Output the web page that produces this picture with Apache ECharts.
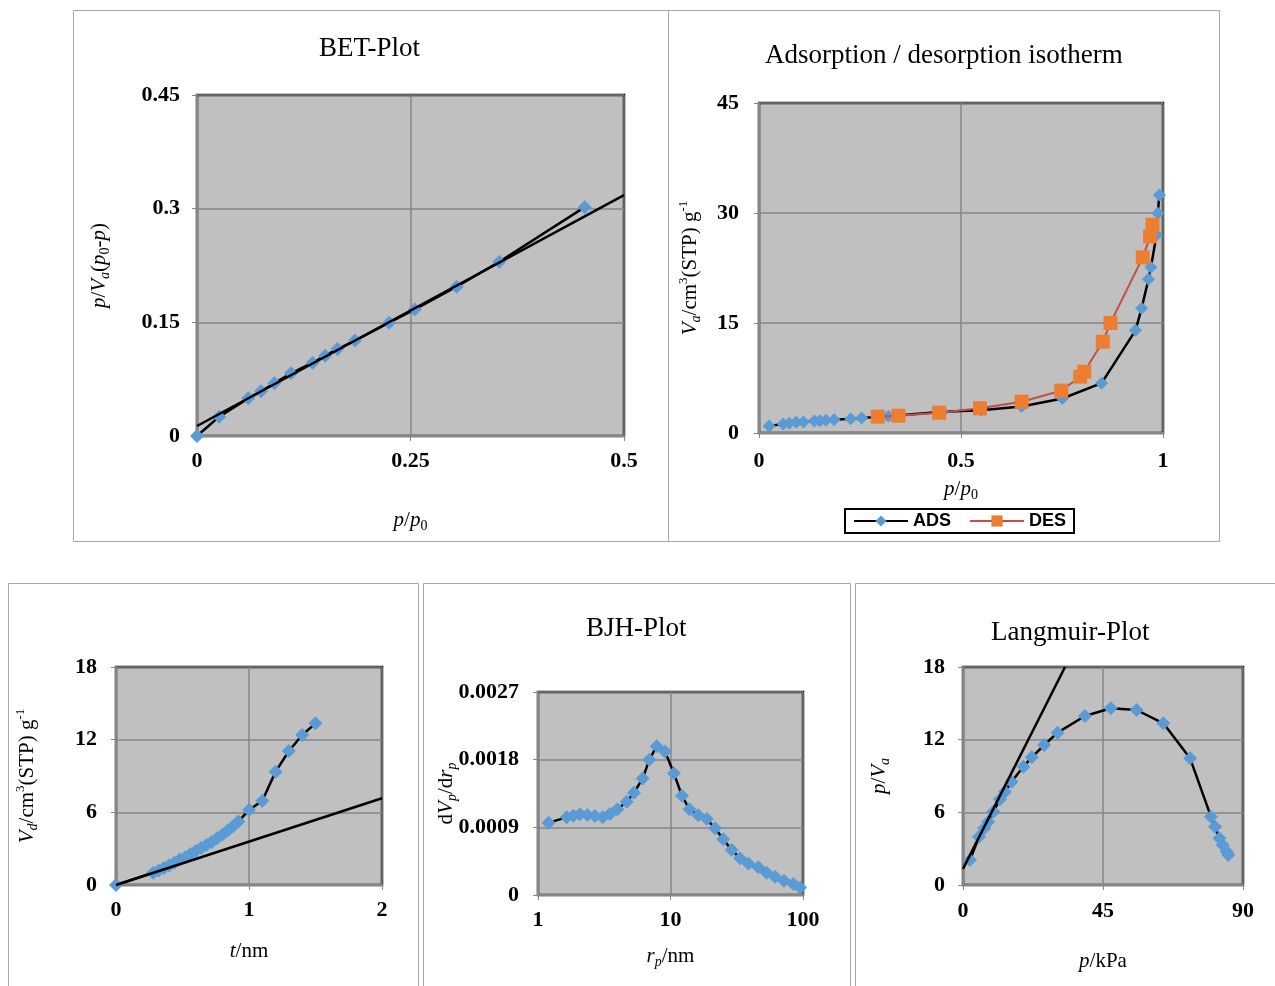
<!DOCTYPE html>
<html>
<head>
<meta charset="utf-8">
<title>Surface area plots</title>
<script src="https://cdn.jsdelivr.net/npm/echarts@6/dist/echarts.min.js"></script>
<style>
  html, body { margin: 0; padding: 0; background: #fff; }
  #chart { width: 1275px; height: 986px; }
</style>
</head>
<body>
<div id="chart"></div>
<script>
// BET plot
const betX = [0, 0.026, 0.060, 0.075, 0.0905, 0.110, 0.1355, 0.150, 0.1645, 0.185, 0.225, 0.255, 0.304, 0.354, 0.454];
const betY = [0, 0.0255, 0.0497, 0.059, 0.0695, 0.0827, 0.0967, 0.106, 0.1148, 0.126, 0.1495, 0.167, 0.197, 0.230, 0.302];
const betFitX = [0, 0.5];
const betFitY = [0.0132, 0.318];

// adsorption / desorption isotherm
const adsX = [0.025, 0.060, 0.075, 0.092, 0.110, 0.137, 0.151, 0.166, 0.186, 0.227, 0.254, 0.32, 0.455, 0.55, 0.65, 0.751, 0.848, 0.932, 0.947, 0.964, 0.970, 0.984, 0.987, 0.991];
const adsY = [0.95, 1.23, 1.32, 1.46, 1.5, 1.64, 1.68, 1.73, 1.82, 1.95, 2.05, 2.3, 2.9, 3.1, 3.6, 4.7, 6.8, 14.0, 17.0, 20.95, 22.6, 27.0, 29.95, 32.45];
const desX = [0.974, 0.968, 0.95, 0.870, 0.851, 0.805, 0.795, 0.748, 0.65, 0.547, 0.446, 0.345, 0.294];
const desY = [28.4, 26.8, 23.95, 15.0, 12.45, 8.36, 7.68, 5.77, 4.27, 3.37, 2.77, 2.36, 2.23];

// t-plot
const tX = [0, 0.28, 0.32, 0.36, 0.40, 0.44, 0.48, 0.52, 0.56, 0.60, 0.64, 0.68, 0.72, 0.76, 0.80, 0.84, 0.88, 0.92, 1.00, 1.10, 1.20, 1.30, 1.40, 1.50];
const tY = [0, 1.02, 1.2, 1.4, 1.6, 1.85, 2.1, 2.3, 2.55, 2.8, 3.05, 3.3, 3.55, 3.85, 4.15, 4.5, 4.85, 5.25, 6.19, 6.96, 9.36, 11.06, 12.39, 13.35];
const tFitX = [0, 2];
const tFitY = [0, 7.16];

// BJH plot
const bjhX = [1.2, 1.65, 1.85, 2.07, 2.36, 2.69, 3.08, 3.49, 3.97, 4.67, 5.3, 6.17, 6.92, 7.87, 9.09, 10.6, 12.2, 13.9, 16.2, 18.8, 21.7, 25.0, 29.0, 33.5, 38.7, 46.0, 53.2, 61.5, 71.9, 84.5, 94.9];
const bjhY = [0.000962, 0.001033, 0.001055, 0.001073, 0.001064, 0.00105, 0.001033, 0.001077, 0.00114, 0.00124, 0.00136, 0.00155, 0.0018, 0.00198, 0.00191, 0.00162, 0.00132, 0.00114, 0.00106, 0.00101, 0.000887, 0.00074, 0.000599, 0.000488, 0.00042, 0.000368, 0.000297, 0.000243, 0.00019, 0.000146, 0.0001];

// Langmuir plot
const lanX = [2.25, 5.14, 6.85, 8.14, 9.75, 11.9, 13.5, 15.6, 19.4, 22.1, 26.1, 30.4, 39.2, 47.5, 55.8, 64.4, 73.0, 79.7, 81.0, 82.4, 83.5, 84.8, 85.3];
const lanY = [2.06, 3.99, 4.68, 5.23, 6.05, 7.08, 7.7, 8.53, 9.77, 10.54, 11.56, 12.58, 13.95, 14.59, 14.45, 13.35, 10.46, 5.64, 4.81, 3.86, 3.3, 2.75, 2.48];
const lanFitX = [0, 32.8];
const lanFitY = [1.33, 18];

const SERIF = '"Liberation Serif", "Times New Roman", serif';
const BLUE = '#5B9BD5';

function pairs(xs, ys) {
  return xs.map(function (x, i) { return [x, ys[i]]; });
}

// rich text styles for axis names (italic, subscripts, superscripts)
const nameRich = {
  n: { fontFamily: SERIF, fontSize: 21, color: '#000', lineHeight: 26 },
  i: { fontFamily: SERIF, fontSize: 21, fontStyle: 'italic', color: '#000', lineHeight: 26 },
  si: { fontFamily: SERIF, fontSize: 14, fontStyle: 'italic', color: '#000', verticalAlign: 'bottom', lineHeight: 26 },
  s: { fontFamily: SERIF, fontSize: 14, color: '#000', verticalAlign: 'bottom', lineHeight: 26 },
  up: { fontFamily: SERIF, fontSize: 13, color: '#000', verticalAlign: 'top', lineHeight: 26 }
};

function valAxis(idx, min, max, interval, name, gap, margin, extra) {
  return Object.assign({
    type: 'value',
    gridIndex: idx,
    min: min,
    max: max,
    interval: interval,
    name: name,
    nameLocation: 'middle',
    nameGap: gap,
    nameMoveOverlap: false,
    nameTextStyle: { rich: nameRich },
    axisLine: { show: true, onZero: false, lineStyle: { color: '#868686', width: 2 } },
    axisTick: { show: true, length: 5, lineStyle: { color: '#868686' } },
    axisLabel: { fontFamily: SERIF, fontSize: 22, fontWeight: 'bold', color: '#000', margin: margin },
    splitLine: { show: true, lineStyle: { color: '#868686', width: 1.5 } }
  }, extra || {});
}

function gridBox(left, top, width, height) {
  return {
    left: left, top: top, width: width, height: height,
    show: true,
    backgroundColor: '#C0C0C0',
    borderColor: '#000',
    borderWidth: 2.5
  };
}

function pointSeries(name, idx, data, extra) {
  return Object.assign({
    name: name,
    type: 'line',
    xAxisIndex: idx,
    yAxisIndex: idx,
    data: data,
    symbol: 'diamond',
    symbolSize: 14,
    showSymbol: true,
    itemStyle: { color: BLUE },
    lineStyle: { color: '#000', width: 2.5 },
    animation: false,
    z: 3
  }, extra || {});
}

function fitSeries(idx, data) {
  return {
    type: 'line',
    xAxisIndex: idx,
    yAxisIndex: idx,
    data: data,
    symbol: 'none',
    lineStyle: { color: '#000', width: 2.5 },
    animation: false,
    z: 4
  };
}

function panel(x1, y1, x2, y2) {
  return {
    type: 'rect',
    shape: { x: x1, y: y1, width: x2 - x1, height: y2 - y1 },
    style: { fill: 'none', stroke: '#A6A6A6', lineWidth: 1 },
    z: -1
  };
}

const titleStyle = { fontFamily: SERIF, fontSize: 27, fontWeight: 'normal', color: '#000' };

let option = {
  backgroundColor: '#fff',
  animation: false,
  graphic: [
    panel(73.5, 10.5, 668.5, 541.5),
    panel(668.5, 10.5, 1219.5, 541.5),
    panel(8.5, 583.5, 418.5, 990),
    panel(423.5, 583.5, 850.5, 990),
    panel(855.5, 583.5, 1280, 990)
  ],
  title: [
    { text: 'BET-Plot', left: 319, top: 35, padding: 0, textStyle: titleStyle },
    { text: 'Adsorption / desorption isotherm', left: 765, top: 42, padding: 0, textStyle: titleStyle },
    { text: 'BJH-Plot', left: 586, top: 615, padding: 0, textStyle: titleStyle },
    { text: 'Langmuir-Plot', left: 991, top: 619, padding: 0, textStyle: titleStyle }
  ],
  legend: {
    data: ['ADS', 'DES'],
    left: 845,
    top: 509,
    padding: [3, 8, 3, 8],
    itemGap: 18,
    itemWidth: 54,
    itemHeight: 14,
    borderColor: '#000',
    borderWidth: 2,
    backgroundColor: '#fff',
    textStyle: { fontFamily: '"Liberation Sans", Arial, sans-serif', fontSize: 18, fontWeight: 'bold', color: '#000' }
  },
  grid: [
    gridBox(197, 95, 427, 341),
    gridBox(759, 103, 404, 330),
    gridBox(116, 667, 266, 218),
    gridBox(538, 692, 265, 203),
    gridBox(963, 667, 280, 218)
  ],
  xAxis: [
    valAxis(0, 0, 0.5, 0.25, '{i|p}{n|/}{i|p}{s|0}', 71, 14),
    valAxis(1, 0, 1, 0.5, '{i|p}{n|/}{i|p}{s|0}', 43, 17),
    valAxis(2, 0, 2, 1, '{i|t}{n|/nm}', 53, 14),
    valAxis(3, 1, 100, null, '{i|r}{si|p}{n|/nm}', 48, 14, { type: 'log', logBase: 10, interval: undefined }),
    valAxis(4, 0, 90, 45, '{i|p}{n|/kPa}', 63, 15)
  ],
  yAxis: [
    valAxis(0, 0, 0.45, 0.15, '{i|p}{n|/}{i|V}{si|a}{n|(}{i|p}{s|0}{n|-}{i|p}{n|)}', 85, 17),
    valAxis(1, 0, 45, 15, '{i|V}{si|a}{n|/cm}{up|3}{n|(STP) g}{up|-1}', 56, 20),
    valAxis(2, 0, 18, 6, '{i|V}{si|d}{n|/cm}{up|3}{n|(STP) g}{up|-1}', 76, 19),
    valAxis(3, 0, 0.0027, 0.0009, '{n|d}{i|V}{si|p}{n|/d}{i|r}{si|p}', 79, 19),
    valAxis(4, 0, 18, 6, '{i|p}{n|/}{i|V}{si|a}', 71, 18)
  ],
  series: [
    pointSeries('BET', 0, pairs(betX, betY)),
    fitSeries(0, pairs(betFitX, betFitY)),
    pointSeries('ADS', 1, pairs(adsX, adsY), { symbolSize: 13 }),
    pointSeries('DES', 1, pairs(desX, desY), {
      symbol: 'rect',
      symbolSize: 14,
      itemStyle: { color: '#ED7D31' },
      lineStyle: { color: '#C0504D', width: 2 },
      z: 4
    }),
    pointSeries('t', 2, pairs(tX, tY)),
    fitSeries(2, pairs(tFitX, tFitY)),
    pointSeries('BJH', 3, pairs(bjhX, bjhY)),
    pointSeries('Langmuir', 4, pairs(lanX, lanY)),
    fitSeries(4, pairs(lanFitX, lanFitY))
  ]
};

let chartDom = document.getElementById('chart');
let myChart = echarts.init(chartDom);
myChart.setOption(option);
window.onresize = function () {
  myChart.resize();
};
</script>
</body>
</html>
